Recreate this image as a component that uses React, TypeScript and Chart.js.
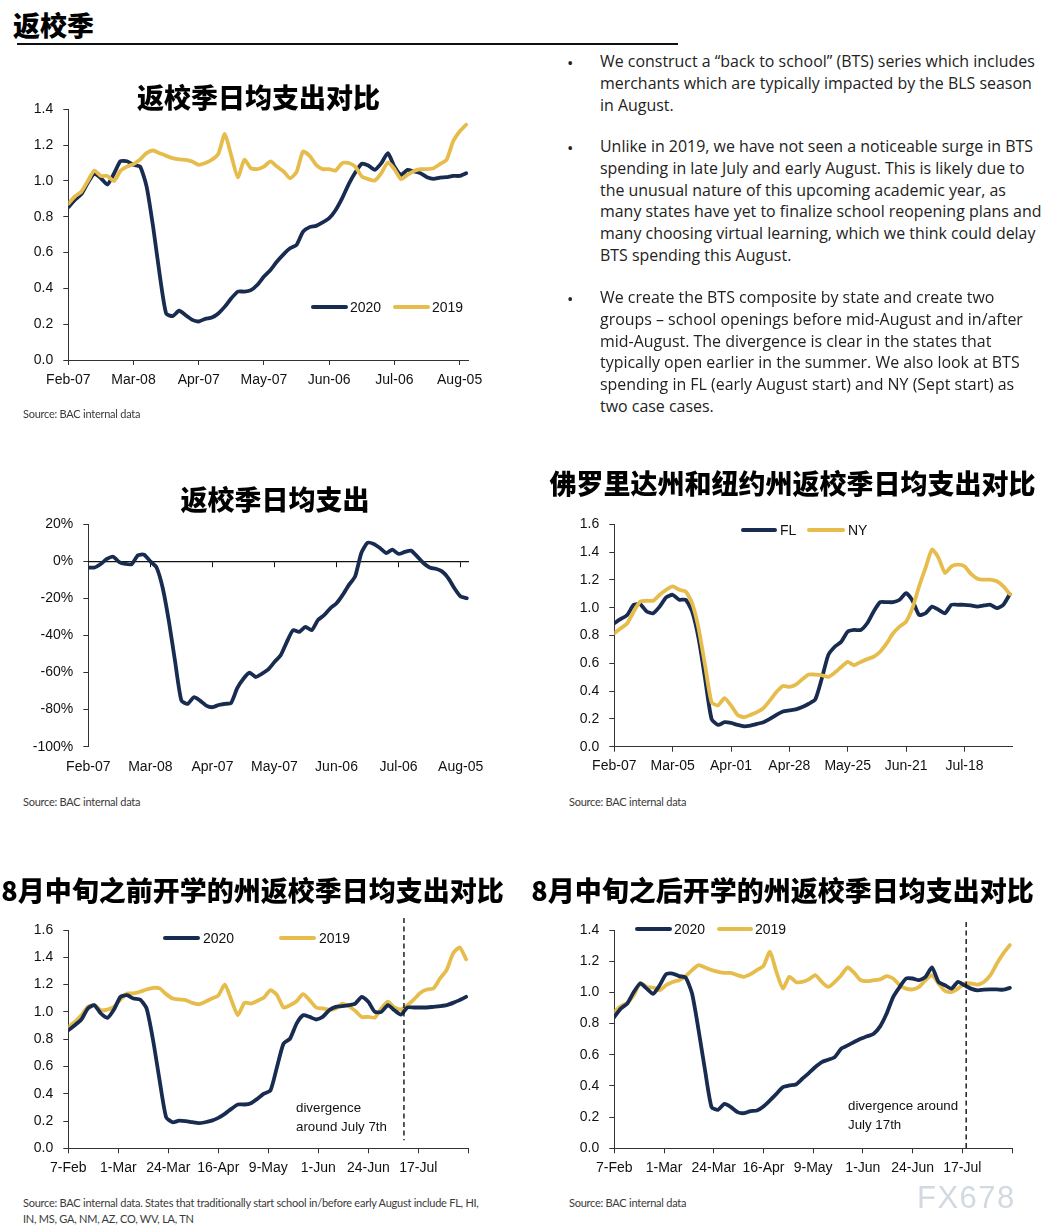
import React, { useEffect, useRef } from 'react';
import { Chart, registerables } from 'chart.js';

Chart.register(...registerables);

const NAVY = '#182b50';
const GOLD = '#e6bd4c';
const AXIS = '#333333';
const TICK_FONT = "'Liberation Sans', Arial, sans-serif";
const CJK = "'Noto Sans CJK SC', 'Noto Sans CJK JP', sans-serif";
const BODY_FONT = "'Open Sans', 'Noto Sans', sans-serif";
const SRC_FONT = "Lato, 'Open Sans', sans-serif";

// all series are sampled every 3 days starting on Feb 7 (day 0)
const SAMPLE_STEP = 3;

// ---------- Chart 1: 返校季日均支出对比 ----------
const c1TickDays = [0, 30, 60, 90, 120, 150, 180];
const c1TickLabels = ['Feb-07', 'Mar-08', 'Apr-07', 'May-07', 'Jun-06', 'Jul-06', 'Aug-05'];
const c1YTicks = [0, 0.2, 0.4, 0.6, 0.8, 1.0, 1.2, 1.4];
const c1Y2020 = [
  0.853, 0.894, 0.926, 0.99, 1.04, 1.015, 0.98, 1.04, 1.11, 1.11,
  1.09, 1.08, 0.97, 0.745, 0.48, 0.26, 0.245, 0.275, 0.25, 0.224,
  0.215, 0.23, 0.237, 0.26, 0.298, 0.345, 0.382, 0.382, 0.39, 0.42,
  0.466, 0.503, 0.55, 0.59, 0.624, 0.643, 0.717, 0.742, 0.749, 0.768,
  0.792, 0.838, 0.904, 0.982, 1.047, 1.096, 1.086, 1.062, 1.099, 1.155,
  1.08, 1.034, 1.062, 1.053, 1.043, 1.021, 1.012, 1.019, 1.021, 1.028,
  1.028, 1.043,
];
const c1Y2019 = [
  0.872, 0.913, 0.94, 1.0, 1.058, 1.028, 1.028, 1.0, 1.056, 1.08,
  1.094, 1.12, 1.155, 1.17, 1.155, 1.14, 1.127, 1.12, 1.118, 1.109,
  1.09, 1.1, 1.118, 1.151, 1.262, 1.14, 1.02, 1.118, 1.071, 1.066,
  1.08, 1.109, 1.08, 1.053, 1.015, 1.05, 1.165, 1.14, 1.09, 1.066,
  1.066, 1.058, 1.1, 1.1, 1.08, 1.025, 1.01, 1.002, 1.043, 1.103,
  1.066, 1.01, 1.034, 1.056, 1.066, 1.066, 1.071, 1.094, 1.118, 1.22,
  1.276, 1.314,
];

// ---------- Chart 2: 返校季日均支出 (2020 vs 2019, %) ----------
const c2TickDays = [0, 30, 60, 90, 120, 150, 180];
const c2TickLabels = ['Feb-07', 'Mar-08', 'Apr-07', 'May-07', 'Jun-06', 'Jul-06', 'Aug-05'];
const c2YTicks = [-100, -80, -60, -40, -20, 0, 20];
const c2YoY = [
  -3.3, -3.3, -1.4, 1.3, 2.5, -0.4, -1.4, -1.5, 3.3, 3.6,
  0, -3.3, -14.5, -32.6, -54.3, -75.1, -76.9, -73.3, -75.1, -77.8,
  -78.7, -77.5, -76.9, -76.4, -68.4, -63.3, -60.1, -62.4, -60.6, -58.3,
  -54.3, -50.7, -43.4, -37.1, -38.0, -35.3, -37.1, -31.7, -29.0, -25.3,
  -22.6, -18.1, -12.7, -8.1, 4.5, 10.0, 9.4, 7.2, 4.5, 6.3,
  4.0, 5.1, 5.8, 2.7, -0.9, -3.3, -4.0, -5.4, -9.0, -14.5,
  -19.0, -19.9,
];

// ---------- Chart 3: 佛罗里达州和纽约州 ----------
const c3TickDays = [0, 27, 54, 81, 108, 135, 162];
const c3TickLabels = ['Feb-07', 'Mar-05', 'Apr-01', 'Apr-28', 'May-25', 'Jun-21', 'Jul-18'];
const c3YTicks = [0, 0.2, 0.4, 0.6, 0.8, 1.0, 1.2, 1.4, 1.6];
const c3FL = [
  0.888, 0.919, 0.948, 1.021, 1.025, 0.973, 0.96, 1.008, 1.074, 1.093,
  1.057, 1.057, 0.973, 0.779, 0.49, 0.2, 0.157, 0.176, 0.171, 0.157,
  0.147, 0.152, 0.164, 0.176, 0.2, 0.229, 0.253, 0.261, 0.268, 0.285,
  0.309, 0.34, 0.49, 0.659, 0.719, 0.755, 0.828, 0.84, 0.84, 0.888,
  0.973, 1.04, 1.04, 1.04, 1.057, 1.105, 1.05, 0.948, 0.96, 1.008,
  0.985, 0.96, 1.021, 1.021, 1.021, 1.016, 1.008, 1.016, 1.021, 0.997,
  1.021, 1.098,
];
const c3NY = [
  0.816, 0.852, 0.888, 0.973, 1.045, 1.05, 1.05, 1.093, 1.129, 1.153,
  1.129, 1.117, 1.033, 0.852, 0.586, 0.321, 0.297, 0.35, 0.297, 0.229,
  0.212, 0.229, 0.249, 0.278, 0.333, 0.393, 0.437, 0.43, 0.446, 0.485,
  0.519, 0.519, 0.514, 0.502, 0.533, 0.574, 0.61, 0.586, 0.61, 0.63,
  0.647, 0.683, 0.743, 0.816, 0.864, 0.9, 1.0, 1.153, 1.286, 1.419,
  1.359, 1.25, 1.298, 1.31, 1.298, 1.243, 1.209, 1.202, 1.202, 1.19,
  1.153, 1.098,
];

// ---------- Chart 4: 8月中旬之前开学的州 ----------
const c4TickDays = [0, 23, 46, 69, 92, 115, 138, 161, 184];
const c4TickLabels = ['7-Feb', '1-Mar', '24-Mar', '16-Apr', '9-May', '1-Jun', '24-Jun', '17-Jul', ''];
const c4YTicks = [0, 0.2, 0.4, 0.6, 0.8, 1.0, 1.2, 1.4, 1.6];
const c4DivergenceDay = 154.4;
const c4Y2020 = [
  0.865, 0.902, 0.944, 1.025, 1.049, 0.988, 0.956, 1.017, 1.11, 1.123,
  1.098, 1.091, 1.025, 0.792, 0.498, 0.228, 0.191, 0.203, 0.199, 0.191,
  0.184, 0.191, 0.203, 0.223, 0.252, 0.289, 0.321, 0.321, 0.331, 0.363,
  0.4, 0.424, 0.596, 0.767, 0.804, 0.914, 0.975, 0.963, 0.944, 0.963,
  1.012, 1.037, 1.042, 1.049, 1.061, 1.11, 1.074, 1.0, 1.0, 1.049,
  1.012, 0.98, 1.032, 1.032, 1.032, 1.032, 1.037, 1.042, 1.049, 1.066,
  1.086, 1.11,
];
const c4Y2019 = [
  0.89, 0.926, 0.975, 1.037, 1.049, 1.012, 1.017, 1.037, 1.091, 1.135,
  1.135, 1.147, 1.164, 1.176, 1.172, 1.13, 1.098, 1.091, 1.086, 1.066,
  1.056, 1.074, 1.098, 1.12, 1.2, 1.086, 0.975, 1.066, 1.061, 1.081,
  1.105, 1.159, 1.123, 1.032, 1.049, 1.078, 1.13, 1.086, 1.032, 1.025,
  1.017, 1.025, 1.061, 1.042, 1.007, 0.963, 0.963, 0.958, 1.025, 1.074,
  1.032, 1.017, 1.049, 1.091, 1.14, 1.164, 1.172, 1.245, 1.306, 1.429,
  1.473, 1.385,
];

// ---------- Chart 5: 8月中旬之后开学的州 ----------
const c5TickDays = [0, 23, 46, 69, 92, 115, 138, 161, 184];
const c5TickLabels = ['7-Feb', '1-Mar', '24-Mar', '16-Apr', '9-May', '1-Jun', '24-Jun', '17-Jul', ''];
const c5YTicks = [0, 0.2, 0.4, 0.6, 0.8, 1.0, 1.2, 1.4];
const c5DivergenceDay = 162.8;
const c5Y2020 = [
  0.842, 0.896, 0.928, 1.002, 1.057, 1.024, 0.991, 1.046, 1.117, 1.121,
  1.104, 1.095, 0.991, 0.757, 0.499, 0.264, 0.247, 0.285, 0.264, 0.232,
  0.225, 0.238, 0.242, 0.268, 0.307, 0.349, 0.392, 0.403, 0.409, 0.446,
  0.482, 0.521, 0.553, 0.568, 0.585, 0.639, 0.66, 0.682, 0.703, 0.718,
  0.735, 0.782, 0.864, 0.97, 1.034, 1.089, 1.089, 1.078, 1.1, 1.16,
  1.067, 1.046, 1.024, 1.067, 1.046, 1.024, 1.013, 1.017, 1.019, 1.019,
  1.017, 1.029,
];
const c5Y2019 = [
  0.875, 0.911, 0.932, 0.981, 1.061, 1.035, 1.031, 1.013, 1.046, 1.067,
  1.078, 1.104, 1.143, 1.175, 1.16, 1.143, 1.132, 1.125, 1.125, 1.11,
  1.1, 1.117, 1.143, 1.17, 1.26, 1.132, 1.025, 1.1, 1.067, 1.067,
  1.083, 1.11, 1.067, 1.035, 1.067, 1.11, 1.16, 1.125, 1.078, 1.072,
  1.078, 1.083, 1.104, 1.089, 1.046, 1.024, 1.019, 1.035, 1.078, 1.11,
  1.057, 1.009, 1.002, 1.024, 1.057, 1.057, 1.05, 1.067, 1.11, 1.185,
  1.25, 1.303,
];

const PARA1 = [
  'We construct a \u201cback to school\u201d (BTS) series which includes',
  'merchants which are typically impacted by the BLS season',
  'in August.',
];
const PARA2 = [
  'Unlike in 2019, we have not seen a noticeable surge in BTS',
  'spending in late July and early August. This is likely due to',
  'the unusual nature of this upcoming academic year, as',
  'many states have yet to finalize school reopening plans and',
  'many choosing virtual learning, which we think could delay',
  'BTS spending this August.',
];
const PARA3 = [
  'We create the BTS composite by state and create two',
  'groups \u2013 school openings before mid-August and in/after',
  'mid-August. The divergence is clear in the states that',
  'typically open earlier in the summer. We also look at BTS',
  'spending in FL (early August start) and NY (Sept start) as',
  'two case cases.',
];

type Series = { data: number[]; color: string; order: number };
type Spec = {
  left: number; top: number; width: number; height: number;
  pad: { left: number; right: number; top: number; bottom: number };
  yW: number; xH: number; xPad: number;
  xMax: number; xTicks: number[]; xLabels: string[];
  yMin: number; yMax: number; yTicks: number[]; yFmt: (v: number) => string;
  series: Series[];
  zeroAxis?: boolean;
  vline?: { day: number; above: number; inset: number };
};

const fmt1 = (v: number) => v.toFixed(1);
const fmtPct = (v: number) => `${v}%`;

function buildConfig(s: Spec): any {
  const tickFont = { family: TICK_FONT, size: 14 };
  const scales: any = {
    x: {
      type: 'linear', min: 0, max: s.xMax,
      afterBuildTicks: (a: any) => { a.ticks = s.xTicks.map((v) => ({ value: v })); },
      afterFit: (a: any) => { a.height = s.xH; },
      ticks: {
        autoSkip: false, maxRotation: 0, minRotation: 0, padding: s.xPad, color: '#111', font: tickFont,
        callback: (_v: any, i: number) => s.xLabels[i] ?? '',
      },
      grid: s.zeroAxis
        ? { display: false }
        : { display: true, drawOnChartArea: false, drawTicks: true, tickLength: 5, tickColor: AXIS, color: AXIS },
      border: { display: !s.zeroAxis, color: AXIS, width: 1 },
    },
    y: {
      type: 'linear', min: s.yMin, max: s.yMax,
      afterBuildTicks: (a: any) => { a.ticks = s.yTicks.map((v) => ({ value: v })); },
      afterFit: (a: any) => { a.width = s.yW; },
      ticks: { autoSkip: false, padding: 10, color: '#111', font: tickFont, callback: (v: any) => s.yFmt(Number(v)) },
      grid: { display: true, drawOnChartArea: false, drawTicks: true, tickLength: 5, tickColor: AXIS, color: AXIS },
      border: { display: true, color: AXIS, width: 1 },
    },
  };
  if (s.zeroAxis) {
    scales.x2 = {
      type: 'linear', min: 0, max: s.xMax, position: { y: 0 },
      afterBuildTicks: (a: any) => { a.ticks = s.xTicks.map((v) => ({ value: v })); },
      ticks: { display: false },
      grid: { display: true, drawOnChartArea: false, drawTicks: true, tickLength: 5, tickColor: '#111', color: '#111' },
      border: { display: true, color: '#111', width: 1.2 },
    };
  }
  const plugins: any[] = [];
  if (s.vline) {
    const vl = s.vline;
    plugins.push({
      id: 'divergenceLine',
      afterDatasetsDraw(chart: any) {
        const x = chart.scales.x.getPixelForValue(vl.day);
        const ctx = chart.ctx;
        ctx.save();
        ctx.setLineDash([5, 3.5]);
        ctx.lineWidth = 1.4;
        ctx.strokeStyle = '#111';
        ctx.beginPath();
        ctx.moveTo(x, chart.chartArea.top - vl.above);
        ctx.lineTo(x, chart.chartArea.bottom - vl.inset);
        ctx.stroke();
        ctx.restore();
      },
    });
  }
  return {
    type: 'line',
    data: {
      datasets: s.series.map((ser) => ({
        data: ser.data.map((v, i) => ({ x: i * SAMPLE_STEP, y: v })),
        borderColor: ser.color,
        backgroundColor: ser.color,
        borderWidth: 3.8,
        pointRadius: 0,
        tension: 0.2,
        fill: false,
        borderJoinStyle: 'round',
        borderCapStyle: 'round',
        order: ser.order,
      })),
    },
    options: {
      responsive: false,
      animation: false,
      devicePixelRatio: 1,
      events: [],
      layout: { padding: s.pad },
      plugins: { legend: { display: false }, tooltip: { enabled: false }, title: { display: false } },
      scales,
    },
    plugins,
  };
}

function LineChart({ spec }: { spec: Spec }) {
  const ref = useRef<HTMLCanvasElement>(null);
  useEffect(() => {
    const chart = new Chart(ref.current as HTMLCanvasElement, buildConfig(spec));
    return () => chart.destroy();
  }, []);
  return (
    <canvas
      ref={ref}
      width={spec.width}
      height={spec.height}
      style={{ position: 'absolute', left: spec.left, top: spec.top, width: spec.width, height: spec.height }}
    />
  );
}

const spec1: Spec = {
  left: 0, top: 80, width: 520, height: 330,
  pad: { left: 10, right: 51.7, top: 29.3, bottom: 10 }, yW: 58.3, xH: 40, xPad: 7,
  xMax: 184, xTicks: c1TickDays, xLabels: c1TickLabels,
  yMin: 0, yMax: 1.4, yTicks: c1YTicks, yFmt: fmt1,
  series: [{ data: c1Y2020, color: NAVY, order: 1 }, { data: c1Y2019, color: GOLD, order: 0 }],
};
const spec2: Spec = {
  left: 0, top: 490, width: 520, height: 300,
  pad: { left: 10, right: 51.1, top: 34.3, bottom: 8.3 }, yW: 78.3, xH: 35, xPad: 4,
  xMax: 184, xTicks: c2TickDays, xLabels: c2TickLabels,
  yMin: -100, yMax: 20, yTicks: c2YTicks, yFmt: fmtPct,
  series: [{ data: c2YoY, color: NAVY, order: 0 }],
  zeroAxis: true,
};
const spec3: Spec = {
  left: 520, top: 490, width: 526, height: 300,
  pad: { left: 10, right: 34, top: 34.3, bottom: 8.3 }, yW: 84.3, xH: 35, xPad: 6,
  xMax: 184, xTicks: c3TickDays, xLabels: c3TickLabels,
  yMin: 0, yMax: 1.6, yTicks: c3YTicks, yFmt: fmt1,
  series: [{ data: c3FL, color: NAVY, order: 1 }, { data: c3NY, color: GOLD, order: 0 }],
};
const spec4: Spec = {
  left: 0, top: 895, width: 520, height: 300,
  pad: { left: 10, right: 51.7, top: 35, bottom: 6.7 }, yW: 58.3, xH: 40, xPad: 6.5,
  xMax: 184, xTicks: c4TickDays, xLabels: c4TickLabels,
  yMin: 0, yMax: 1.6, yTicks: c4YTicks, yFmt: fmt1,
  series: [{ data: c4Y2020, color: NAVY, order: 0 }, { data: c4Y2019, color: GOLD, order: 1 }],
  vline: { day: c4DivergenceDay, above: 12, inset: 8 },
};
const spec5: Spec = {
  left: 520, top: 895, width: 526, height: 300,
  pad: { left: 10, right: 34, top: 35, bottom: 6.7 }, yW: 84.3, xH: 40, xPad: 6.5,
  xMax: 184, xTicks: c5TickDays, xLabels: c5TickLabels,
  yMin: 0, yMax: 1.4, yTicks: c5YTicks, yFmt: fmt1,
  series: [{ data: c5Y2020, color: NAVY, order: 0 }, { data: c5Y2019, color: GOLD, order: 1 }],
  vline: { day: c5DivergenceDay, above: 8, inset: 0 },
};

const Txt = ({ x, y, size, children, style, center }: any) => (
  <div
    style={{
      position: 'absolute', left: x, top: y, fontSize: size, lineHeight: 1, whiteSpace: 'nowrap',
      transform: center ? 'translate(-50%, -50%)' : 'translateY(-50%)', ...style,
    }}
  >
    {children}
  </div>
);

const Title = ({ cx, cy, size = 27, children }: any) => (
  <Txt x={cx} y={cy - 1.5} size={size} center style={{ fontFamily: CJK, fontWeight: 900, color: '#000' }}>
    {children}
  </Txt>
);

const LegendItem = ({ x1, x2, tx, cy, color, label }: any) => (
  <>
    <div style={{ position: 'absolute', left: x1, top: cy - 2, width: x2 - x1, height: 4, borderRadius: 2, background: color }} />
    <Txt x={tx} y={cy} size={14} style={{ fontFamily: TICK_FONT, color: '#111' }}>{label}</Txt>
  </>
);

const Source = ({ x, cy, children }: any) => (
  <Txt x={x} y={cy} size={11} style={{ fontFamily: SRC_FONT, color: '#3a3a3a', letterSpacing: -0.25 }}>{children}</Txt>
);

const Note = ({ x, cy, children }: any) => (
  <Txt x={x} y={cy} size={13.3} style={{ fontFamily: TICK_FONT, color: '#111' }}>{children}</Txt>
);

const Para = ({ top, lines }: { top: number; lines: string[] }) => (
  <>
    <Txt x={567} y={top} size={17} style={{ fontFamily: BODY_FONT, color: '#222' }}>{'\u2022'}</Txt>
    {lines.map((l, i) => (
      <Txt key={i} x={600} y={top + i * 21.8} size={15.95} style={{ fontFamily: BODY_FONT, color: '#222' }}>{l}</Txt>
    ))}
  </>
);

export default function App() {
  return (
    <div style={{ position: 'absolute', left: 0, top: 0, width: 1046, height: 1232, background: '#fff', overflow: 'hidden' }}>
      <LineChart spec={spec1} />
      <LineChart spec={spec2} />
      <LineChart spec={spec3} />
      <LineChart spec={spec4} />
      <LineChart spec={spec5} />

      <Txt x={13} y={24} size={27} style={{ fontFamily: CJK, fontWeight: 900, color: '#000' }}>返校季</Txt>
      <div style={{ position: 'absolute', left: 17, top: 43, width: 661, height: 2, background: '#111' }} />

      <Title cx={258.5} cy={97}>返校季日均支出对比</Title>
      <Title cx={275} cy={499}>返校季日均支出</Title>
      <Title cx={792.5} cy={483} size={27}>佛罗里达州和纽约州返校季日均支出对比</Title>
      <Title cx={252.5} cy={890}>8月中旬之前开学的州返校季日均支出对比</Title>
      <Title cx={782.5} cy={890}>8月中旬之后开学的州返校季日均支出对比</Title>

      <LegendItem x1={311} x2={348} tx={350} cy={307} color={NAVY} label="2020" />
      <LegendItem x1={393} x2={430} tx={432} cy={307} color={GOLD} label="2019" />
      <LegendItem x1={741} x2={777} tx={780} cy={530} color={NAVY} label="FL" />
      <LegendItem x1={807} x2={845} tx={848} cy={530} color={GOLD} label="NY" />
      <LegendItem x1={163} x2={200} tx={203} cy={938} color={NAVY} label="2020" />
      <LegendItem x1={279} x2={316} tx={319} cy={938} color={GOLD} label="2019" />
      <LegendItem x1={635} x2={672} tx={674} cy={929} color={NAVY} label="2020" />
      <LegendItem x1={717} x2={753} tx={755} cy={929} color={GOLD} label="2019" />

      <Note x={296} cy={1108}>divergence</Note>
      <Note x={296} cy={1127}>around July 7th</Note>
      <Note x={848} cy={1106}>divergence around</Note>
      <Note x={848} cy={1125}>July 17th</Note>

      <Source x={23} cy={413}>Source: BAC internal data</Source>
      <Source x={23} cy={801}>Source: BAC internal data</Source>
      <Source x={569} cy={801}>Source: BAC internal data</Source>
      <Source x={23} cy={1202}>Source: BAC internal data. States that traditionally start school in/before early August include FL, HI,</Source>
      <Source x={23} cy={1218}>IN, MS, GA, NM, AZ, CO, WV, LA, TN</Source>
      <Source x={569} cy={1202}>Source: BAC internal data</Source>

      <Para top={62} lines={PARA1} />
      <Para top={147} lines={PARA2} />
      <Para top={298} lines={PARA3} />

      <Txt x={917} y={1197} size={31} style={{ fontFamily: TICK_FONT, color: '#d3d9e1', letterSpacing: 1.5 }}>FX678</Txt>
    </div>
  );
}
